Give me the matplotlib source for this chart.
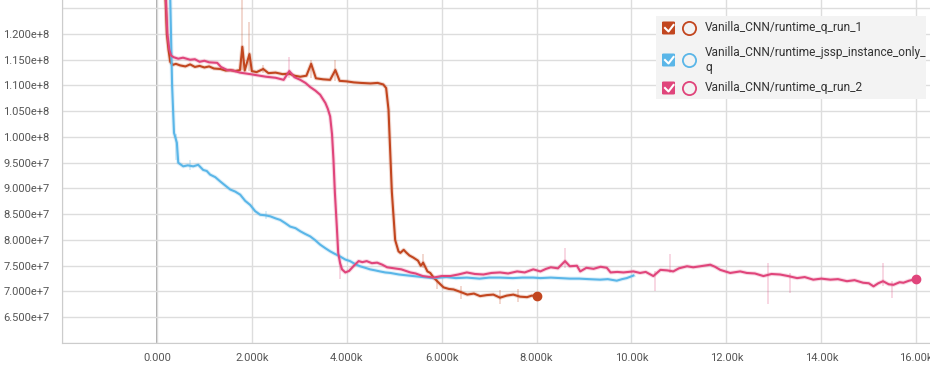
import matplotlib
matplotlib.use("Agg")
import matplotlib.pyplot as plt
from matplotlib.patches import FancyBboxPatch, Rectangle
from matplotlib.lines import Line2D
from matplotlib.ticker import FuncFormatter, MultipleLocator

plt.rcParams['font.family'] = ['Roboto', 'DejaVu Sans']

# ---------------- data (values in millions) ----------------
RUN1_STEPS = [150, 210, 245, 280, 330, 400, 490, 600, 700, 800, 900, 1000, 1100, 1200, 1340,
              1450, 1550, 1650, 1750, 1800, 1850, 1950, 2000, 2100, 2240, 2350, 2500, 2650,
              2790, 2900, 3020, 3150, 3250, 3350, 3500, 3650, 3760, 3850, 4000, 4150, 4300,
              4500, 4650, 4770, 4830, 4880, 4950, 5020, 5090, 5130, 5200, 5250, 5320, 5400,
              5500, 5560, 5610, 5700, 5760, 5830, 5950, 6040, 6150, 6250, 6400, 6540, 6680,
              6810, 6950, 7090, 7230, 7370, 7510, 7650, 7800, 7900, 8010]
RUN1_VALUES = [135.0, 120.0, 116.9, 114.6, 114.0, 114.2, 113.9, 113.7, 114.1, 113.6, 113.8, 113.5,
               113.7, 113.3, 113.2, 112.9, 113.0, 112.8, 113.0, 117.5, 112.9, 116.1, 112.8, 112.6,
               113.2, 112.4, 112.5, 112.2, 112.3, 111.9, 111.7, 111.9, 114.2, 111.4, 111.2, 111.1,
               113.0, 110.9, 110.8, 110.6, 110.5, 110.4, 110.5, 110.2, 109.5, 105.3, 89.4, 80.0,
               77.8, 77.5, 78.1, 77.6, 77.0, 76.6, 76.0, 75.0, 75.6, 73.9, 73.6, 72.7, 71.6, 70.8,
               70.5, 70.4, 69.9, 69.4, 69.6, 69.1, 69.3, 69.4, 68.8, 69.2, 69.4, 69.0, 68.9, 69.2,
               69.1]

BLUE_STEPS = [250, 320, 360, 420, 450, 555, 650, 765, 870, 975, 1050, 1120, 1230, 1330, 1450,
              1545, 1650, 1755, 1860, 1966, 2070, 2177, 2280, 2387, 2500, 2598, 2700, 2809, 2920,
              3020, 3120, 3230, 3330, 3440, 3550, 3650, 3750, 3860, 3970, 4070, 4180, 4280, 4390,
              4490, 4600, 4700, 4810, 4920, 5100, 5300, 5500, 5830, 6100, 6300, 6530, 6800, 7000,
              7230, 7500, 7700, 7930, 8080, 8300, 8500, 8700, 8900, 9100, 9340, 9500, 9690, 9800,
              9900, 10040]
BLUE_VALUES = [140.0, 110.0, 100.8, 98.9, 95.0, 94.3, 94.5, 94.3, 94.6, 93.6, 93.4, 92.7, 92.2,
               91.4, 90.5, 89.8, 89.4, 88.8, 87.6, 86.8, 85.6, 84.9, 84.8, 84.6, 84.2, 83.9, 83.3,
               82.6, 82.3, 81.7, 81.2, 80.7, 80.0, 79.1, 78.4, 77.8, 77.3, 76.8, 76.2, 75.9, 75.3,
               74.9, 74.6, 74.3, 74.1, 73.9, 73.7, 73.6, 73.3, 73.1, 72.9, 72.6, 72.8, 72.6, 72.7,
               72.5, 72.7, 72.7, 72.6, 72.7, 72.7, 72.6, 72.7, 72.6, 72.5, 72.5, 72.4, 72.3, 72.4,
               72.1, 72.4, 72.6, 73.1]

RUN2_STEPS = [150, 220, 260, 300, 350, 450, 550, 700, 800, 900, 1000, 1100, 1270, 1350, 1480,
              1600, 1750, 1970, 2100, 2300, 2500, 2670, 2790, 2900, 3020, 3130, 3230, 3340, 3440,
              3550, 3600, 3650, 3690, 3720, 3750, 3790, 3820, 3860, 3900, 3970, 4050, 4150, 4250,
              4330, 4420, 4530, 4640, 4750, 4850, 5000, 5150, 5340, 5450, 5600, 5830, 6000, 6180,
              6350, 6530, 6700, 6880, 7050, 7230, 7400, 7590, 7750, 7930, 8080, 8200, 8300, 8450,
              8600, 8700, 8850, 8920, 9050, 9200, 9350, 9480, 9560, 9700, 9830, 10040, 10180,
              10300, 10460, 10610, 10750, 10880, 11000, 11170, 11300, 11450, 11660, 11760, 11870,
              12080, 12290, 12430, 12600, 12780, 12950, 13130, 13300, 13490, 13650, 13830, 14000,
              14190, 14350, 14540, 14700, 14880, 15000, 15100, 15200, 15300, 15420, 15520, 15650,
              15730, 15850, 16000]
RUN2_VALUES = [135.0, 120.0, 117.0, 115.8, 115.5, 115.2, 115.4, 115.0, 115.1, 114.6, 114.8, 114.5,
               114.4, 113.6, 113.0, 112.9, 112.5, 112.2, 112.0, 111.7, 111.5, 111.1, 112.8, 111.6,
               111.1, 110.5, 109.7, 109.0, 108.2, 106.6, 105.5, 104.0, 100.5, 95.6, 89.2, 82.7,
               77.5, 75.5, 74.3, 73.7, 74.0, 75.0, 75.9, 75.7, 75.9, 75.5, 75.6, 75.2, 74.7, 74.5,
               74.3, 73.7, 73.5, 73.0, 72.7, 73.0, 73.0, 73.3, 73.7, 73.4, 73.3, 73.6, 73.7, 73.5,
               73.9, 73.7, 74.3, 73.9, 74.4, 74.7, 74.5, 75.9, 74.9, 75.0, 73.9, 74.6, 74.4, 74.8,
               74.6, 73.7, 73.8, 73.7, 73.9, 73.6, 73.8, 73.0, 74.2, 74.1, 73.9, 74.5, 74.9, 74.7,
               74.9, 75.2, 74.8, 74.2, 73.6, 73.9, 73.6, 73.5, 73.0, 73.4, 73.3, 73.0, 72.6, 72.8,
               72.3, 72.5, 72.3, 72.4, 72.0, 72.2, 71.7, 71.6, 71.0, 71.6, 72.0, 71.4, 71.3, 71.8,
               71.7, 72.1, 72.4]

# faint raw-value spikes: (step, low, high)
RUN1_SPIKES = [(1800, 113.0, 127.0), (1950, 112.8, 122.3), (2240, 112.5, 113.9), (3250, 111.5, 114.9),
               (3760, 110.8, 115.0), (5610, 74.5, 77.3), (5900, 70.5, 73.0), (6400, 68.5, 71.0),
               (7230, 67.5, 70.2), (7600, 68.0, 70.5)]
BLUE_SPIKES = [(400, 95.5, 100.5), (700, 93.5, 95.5), (2300, 84.0, 85.6)]
RUN2_SPIKES = [(2790, 111.5, 115.5), (3850, 72.5, 75.5), (8600, 74.5, 78.5), (10500, 70.0, 74.0),
               (10810, 73.5, 77.2), (12880, 67.5, 75.6), (13340, 69.8, 73.6), (15300, 71.0, 75.6),
               (15490, 68.8, 72.0)]

SERIES = [
    ("Vanilla_CNN/runtime_q_run_1", RUN1_STEPS, RUN1_VALUES, RUN1_SPIKES, "#c2461f", True),
    ("Vanilla_CNN/runtime_jssp_instance_only_\nq", BLUE_STEPS, BLUE_VALUES, BLUE_SPIKES, "#5ab6e8", False),
    ("Vanilla_CNN/runtime_q_run_2", RUN2_STEPS, RUN2_VALUES, RUN2_SPIKES, "#e0457b", True),
]

# ---------------- plotting ----------------
fig = plt.figure(figsize=(9.3, 3.65), dpi=100)
ax = fig.add_axes([62 / 930, 1 - 343 / 365, 868 / 930, 343 / 365])

for name, steps, vals, spikes, color, dot in SERIES:
    for s, lo, hi in spikes:
        ax.vlines(s, lo * 1e6, hi * 1e6, color=color, alpha=0.25, lw=1.2, zorder=2)
    ax.plot(steps, [v * 1e6 for v in vals], color=color, alpha=0.2, lw=3.0, zorder=2,
            solid_joinstyle="round")
    ax.plot(steps, [v * 1e6 for v in vals], color=color, lw=1.5, zorder=3)
    if dot:
        ax.plot(steps[-1], vals[-1] * 1e6, "o", color=color, ms=6, zorder=4)

ax.set_xlim(-2000, 16290)
ax.set_ylim(60.0e6, 126.6e6)
ax.xaxis.set_major_locator(MultipleLocator(2000))
ax.yaxis.set_major_locator(MultipleLocator(5e6))


def fmt_x(v, pos):
    if v < 0:
        return ""
    s = "{:#.4g}".format(v / 1000)
    return s if v == 0 else s + "k"


def fmt_y(v, pos):
    if v < 64e6 or v > 121e6:
        return ""
    m, e = "{:.3e}".format(v).split("e")
    return "{}e+{}".format(m, int(e))


ax.xaxis.set_major_formatter(FuncFormatter(fmt_x))
ax.yaxis.set_major_formatter(FuncFormatter(fmt_y))
ax.tick_params(length=0, labelsize=8, labelcolor="#555555")
ax.tick_params(axis="x", pad=7)
ax.tick_params(axis="y", pad=9)
ax.grid(True, color="#dddddd", lw=1)
ax.axvline(0, color="#999999", lw=1.2, zorder=1)
for sp in ["top", "right"]:
    ax.spines[sp].set_visible(False)
for sp in ["left", "bottom"]:
    ax.spines[sp].set_color("#cccccc")

# legend panel (figure pixel coords)
W, H = 930, 365


def fx(px):
    return px / W


def fy(py):
    return 1 - py / H


fig.patches.append(Rectangle((fx(656), fy(99)), fx(926) - fx(656), fy(16) - fy(99),
                             transform=fig.transFigure, facecolor="#f3f3f3", edgecolor="none",
                             zorder=5))
rows = [28, 60, 88]
for (name, steps, vals, spikes, color, dot), ry in zip(SERIES, rows):
    fig.patches.append(FancyBboxPatch((fx(662), fy(ry + 6.5)), fx(13), 13 / H,
                                      boxstyle="round,pad=0,rounding_size=0.002",
                                      transform=fig.transFigure, facecolor=color,
                                      edgecolor="none", zorder=6))
    fig.lines.append(Line2D([fx(665), fx(668.5), fx(673.5)], [fy(ry), fy(ry + 3.5), fy(ry - 3)],
                            transform=fig.transFigure, color="white", lw=1.5, zorder=7))
    fig.lines.append(Line2D([fx(689)], [fy(ry)], transform=fig.transFigure, marker="o", ms=9.5,
                            markerfacecolor="none", markeredgecolor=color, markeredgewidth=1.3,
                            linestyle="none", zorder=7))
    fig.text(fx(705), fy(ry), name, fontsize=8.6, color="#333333", va="center", ha="left",
             linespacing=1.2, zorder=7)

fig.savefig("out.png", dpi=100)
